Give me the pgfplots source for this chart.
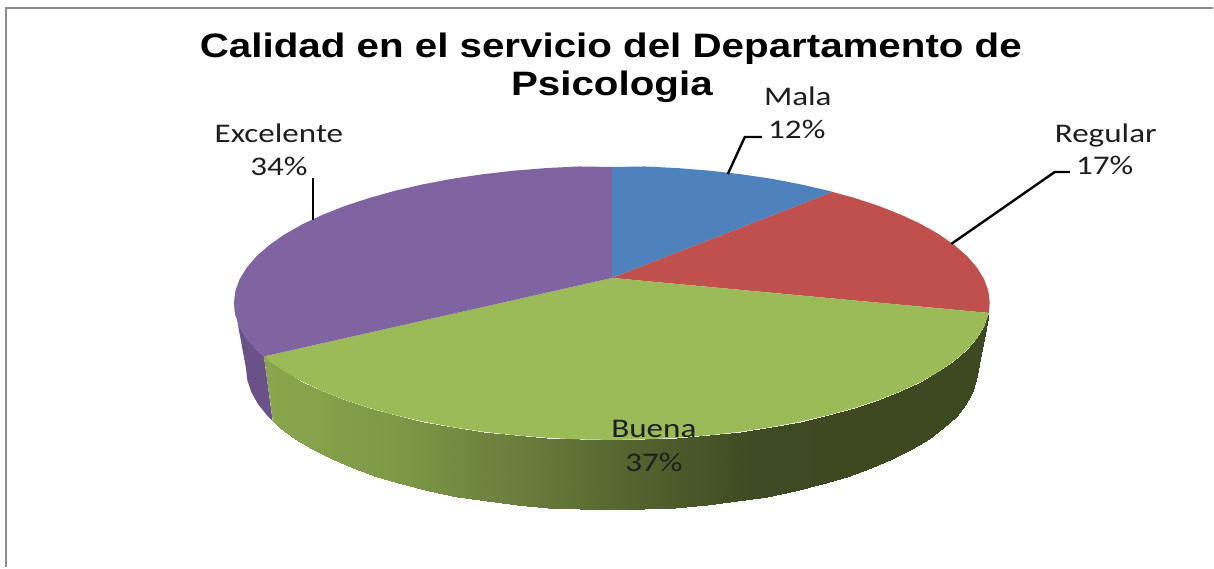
\documentclass[border=0pt]{standalone}
\usepackage{fontspec}
\usepackage{pgfplots}
\pgfplotsset{compat=1.18}
\setmainfont{Liberation Sans}
\newfontfamily\titlef[FakeStretch=1.19]{Liberation Sans}
\newfontfamily\labf[FakeStretch=1.23]{Carlito}
\definecolor{cblue}{RGB}{79,129,189}
\definecolor{cred}{RGB}{192,80,77}
\definecolor{cgreen}{RGB}{155,187,89}
\definecolor{cpurple}{RGB}{128,100,162}
\definecolor{cpside}{RGB}{107,81,137}
\definecolor{frame}{RGB}{140,140,140}
\definecolor{labc}{RGB}{30,30,30}
\tikzset{ttl/.style={anchor=base, inner sep=0pt, font=\titlef\bfseries\fontsize{34}{38}\selectfont},
         lab/.style={anchor=base, inner sep=0pt, text=labc, font=\labf\fontsize{27}{30}\selectfont}}
\begin{document}
\begin{tikzpicture}
\begin{axis}[
  width=1214bp, height=567bp, scale only axis,
  xmin=0, xmax=1214, ymin=0, ymax=567, y dir=reverse,
  hide axis, clip=false,
  colormap={sidegreen}{rgb255=(138,166,76) rgb255=(125,153,70) rgb255=(107,127,61) rgb255=(84,100,47) rgb255=(62,74,35) rgb255=(62,73,34) rgb255=(62,73,34)},
  point meta min=272, point meta max=992,
]
% page extent
\addplot[draw=none, forget plot] coordinates {(0,0) (1214,567)};
% frame
\addplot[frame, line width=2.6pt, forget plot] coordinates {(6,567) (6,8) (1213,8)};
% purple side
\addplot[draw=none, fill=cpside, forget plot] coordinates {
(234,303) (235.4,314.9) (239.7,326.8) (246.9,338.5) (256.8,349.9) (264,356.5)
(272.7,421) (268.1,416.6) (258.5,404.8) (251.6,392.7) (247.4,380.4) (246,368)} -- cycle;
% green side
\addplot[surf, shader=interp, mesh/rows=2, point meta=x, forget plot] coordinates {
(264,356.5) (269.4,360.9) (284.6,371.5) (302.3,381.6) (322.5,391.1) (344.7,399.9) (369,407.9) (395.2,415.2) (423,421.6) (452.3,427.2) (482.7,431.7) (514.2,435.3) (546.4,437.9) (579,439.5) (612,440) (645,439.5) (677.6,437.9) (709.8,435.3) (741.3,431.7) (771.7,427.2) (801,421.6) (828.8,415.2) (855,407.9) (879.3,399.9) (901.5,391.1) (921.7,381.6) (939.4,371.5) (954.6,360.9) (967.2,349.9) (977.1,338.5) (984.3,326.8) (988.6,314.9) (989,313)

(272.7,421) (280.3,428) (295,439) (312.2,449.5) (331.6,459.3) (353.2,468.4) (376.7,476.8) (402.1,484.3) (429,491) (457.3,496.7) (486.8,501.4) (517.3,505.2) (548.5,507.8) (580.1,509.5) (612,510) (643.9,509.5) (675.5,507.8) (706.7,505.2) (737.2,501.4) (766.7,496.7) (795,491) (821.9,484.3) (847.3,476.8) (870.8,468.4) (892.4,459.3) (911.8,449.5) (929,439) (943.7,428) (955.9,416.6) (965.5,404.8) (972.4,392.7) (976.6,380.4) (978,368)
};
% top face
\addplot[draw=none, fill=cblue, forget plot] coordinates {
(612,278) (612,167) (645,166.5) (677.6,168.1) (709.8,170.7) (741.3,174.3) (771.7,178.8) (801,184.4) (828.8,190.8) (833,192)} -- cycle;
\addplot[draw=none, fill=cred, forget plot] coordinates {
(612,278) (833,192) (855,198.1) (879.3,206.1) (901.5,214.9) (921.7,224.4) (939.4,234.5) (954.6,245.1) (967.2,256.1) (977.1,267.5) (984.3,279.2) (988.6,291.1) (990,303) (989,313)} -- cycle;
\addplot[draw=none, fill=cgreen, forget plot] coordinates {
(612,278) (989,313) (988.6,314.9) (984.3,326.8) (977.1,338.5) (967.2,349.9) (954.6,360.9) (939.4,371.5) (921.7,381.6) (901.5,391.1) (879.3,399.9) (855,407.9) (828.8,415.2) (801,421.6) (771.7,427.2) (741.3,431.7) (709.8,435.3) (677.6,437.9) (645,439.5) (612,440) (579,439.5) (546.4,437.9) (514.2,435.3) (482.7,431.7) (452.3,427.2) (423,421.6) (395.2,415.2) (369,407.9) (344.7,399.9) (322.5,391.1) (302.3,381.6) (284.6,371.5) (269.4,360.9) (264,356.5)} -- cycle;
\addplot[draw=none, fill=cpurple, forget plot] coordinates {
(612,278) (264,356.5) (256.8,349.9) (246.9,338.5) (239.7,326.8) (235.4,314.9) (234,303) (235.4,291.1) (239.7,279.2) (246.9,267.5) (256.8,256.1) (269.4,245.1) (284.6,234.5) (302.3,224.4) (322.5,214.9) (344.7,206.1) (369,198.1) (395.2,190.8) (423,184.4) (452.3,178.8) (482.7,174.3) (514.2,170.7) (546.4,168.1) (579,166.5) (612,167)} -- cycle;
% leader lines
\addplot[black, line width=2.4pt, forget plot] coordinates {(728,174) (745,137) (762,137)};
\addplot[black, line width=2.4pt, forget plot] coordinates {(951.5,244) (1055,172) (1070,172)};
\addplot[black, line width=2.4pt, forget plot] coordinates {(313,220) (313,178)};
% text
\node[ttl] at (axis cs:611,58) {Calidad en el servicio del Departamento de};
\node[ttl] at (axis cs:612,96) {Psicologia};
\node[lab] at (axis cs:798,106) {Mala};
\node[lab] at (axis cs:797,139) {12\%};
\node[lab] at (axis cs:1106,143) {Regular};
\node[lab] at (axis cs:1105,175) {17\%};
\node[lab] at (axis cs:279,143) {Excelente};
\node[lab] at (axis cs:279,176) {34\%};
\node[lab] at (axis cs:654,438) {Buena};
\node[lab] at (axis cs:654,472) {37\%};
\end{axis}
\end{tikzpicture}
\end{document}
